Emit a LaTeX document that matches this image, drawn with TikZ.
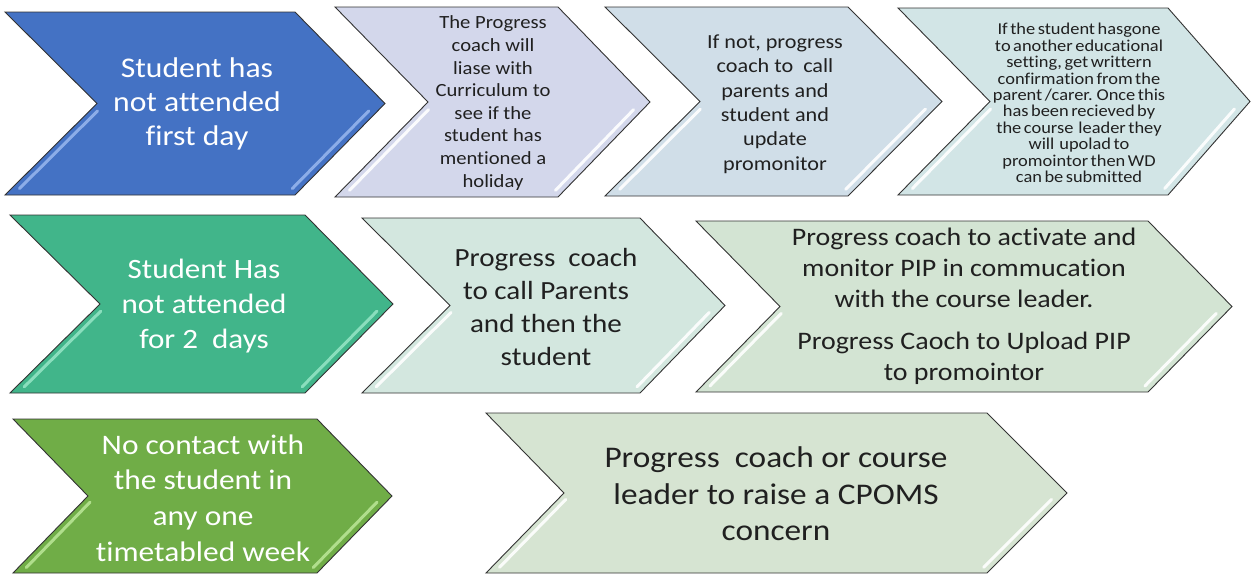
\documentclass[tikz,border=0pt]{standalone}
\usepackage{fontspec}
\setmainfont[FakeStretch=1.11,Ligatures={NoCommon}]{Carlito}
\usetikzlibrary{calc}
\definecolor{cA}{HTML}{4472C4}
\definecolor{cB}{HTML}{D3D7EB}
\definecolor{cC}{HTML}{D0DEE8}
\definecolor{cD}{HTML}{D2E5E6}
\definecolor{cE}{HTML}{41B58A}
\definecolor{cF}{HTML}{D3E7DF}
\definecolor{cG}{HTML}{D3E4D3}
\definecolor{cH}{HTML}{70AD47}
\definecolor{cI}{HTML}{D6E4D2}
\definecolor{hA}{HTML}{94B4EC}
\definecolor{hE}{HTML}{93E3C3}
\definecolor{hH}{HTML}{B8E494}
\definecolor{txt}{HTML}{202020}
\newcommand{\tightsp}{\spaceskip=0.15em plus 0.05em\relax}
% x0, xnotch, xright, xtip, ytop, ybot, fill, highlight
\newcommand{\chevshape}[8]{%
  \pgfmathsetmacro\ymid{(#5+#6)/2}%
  \fill[#7,draw=black!80,line width=0.9] (#1,#5) -- (#3,#5) -- (#4,\ymid) -- (#3,#6) -- (#1,#6) -- (#2,\ymid) -- cycle;
  \draw[#8,line width=3,line cap=round,opacity=0.9]
    ($(#2,\ymid)!0.08!(#1,#6)+(8,0)$) -- ($(#2,\ymid)!0.93!(#1,#6)+(8,0)$);
  \draw[#8,line width=3,line cap=round,opacity=0.9]
    ($(#4,\ymid)!0.08!(#3,#6)+(-9,0)$) -- ($(#4,\ymid)!0.93!(#3,#6)+(-9,0)$);
}
\tikzset{
  lbl/.style={align=center,inner sep=0pt,text=txt},
  wlbl/.style={align=center,inner sep=0pt,text=white}
}
\begin{document}
\begin{tikzpicture}[x=1pt,y=-1pt]
\useasboundingbox (0,0) rectangle (1253,576);
\fill[white] (0,0) rectangle (1253,576);
% row 1
\chevshape{5}{97}{295}{385}{12}{195}{cA}{hA}
\chevshape{335}{428}{558}{650}{7}{197}{cB}{white}
\chevshape{605}{700}{848}{942}{7}{196}{cC}{white}
\chevshape{898}{990}{1168}{1250}{8}{195}{cD}{white}
% row 2
\chevshape{10}{100}{305}{393}{215}{393}{cE}{hE}
\chevshape{362}{450}{640}{725}{218}{393}{cF}{white}
\chevshape{696}{780}{1148}{1232}{221}{392}{cG}{white}
% row 3
\chevshape{13}{88}{317}{392}{419}{573}{cH}{hH}
\chevshape{486}{564}{987}{1067}{413}{573}{cI}{white}

\node[wlbl,font=\fontsize{28.5}{34}\selectfont] (t1) at (197,104) {Student has\\not attended\\first day};
\node[lbl,font=\fontsize{18.6}{22.6}\selectfont] (t2) at (493,103) {The Progress\\coach will\\liase with\\Curriculum to\\see if the\\student has\\mentioned a\\holiday};
\node[lbl,font=\fontsize{20}{24.4}\selectfont] (t3) at (775,104) {If not, progress\\coach to\ \ call\\parents and\\student and\\update\\promonitor};
\node[lbl,font={\fontsize{16.6}{16.4}\selectfont\tightsp}] (t4) at (1079,103) {If the student hasgone\\to another educational\\setting, get writtern\\confirmation from the\\parent /carer. Once this\\has been recieved by\\the course\ \ leader they\\will\ \ upolad to\\promointor then WD\\can be submitted};
\node[wlbl,font=\fontsize{28}{35}\selectfont] (t5) at (204,306) {Student Has\\not attended\\for 2\ \ days};
\node[lbl,font=\fontsize{26.2}{32.7}\selectfont] (t6) at (546,307) {Progress\ \ coach\\to call Parents\\and then the\\student};
\node[lbl,font=\fontsize{25.2}{31}\selectfont] (t7) at (964,306) {Progress coach to activate and\\monitor PIP in commucation\\with the course leader.\\[11pt]Progress Caoch to Upload PIP\\to promointor};
\node[wlbl,font=\fontsize{28.3}{35.7}\selectfont] (t8) at (203,498) {No contact with\\the student in\\any one\\timetabled week};
\node[lbl,font=\fontsize{30}{36.5}\selectfont] (t9) at (776,494) {Progress\ \ coach or course\\leader to raise a CPOMS\\concern};
\end{tikzpicture}
\end{document}
